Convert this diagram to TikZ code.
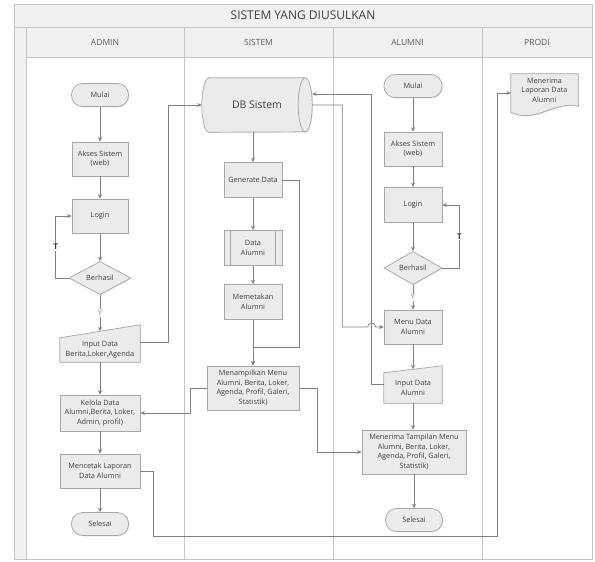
\documentclass[tikz,border=0pt]{standalone}
\usepackage{fontspec}
\setmainfont{Open Sans}
\usetikzlibrary{shapes.geometric,calc,shadows,arrows.meta}
\definecolor{boxfill}{HTML}{EBEBEB}
\definecolor{boxdraw}{HTML}{A6A6A6}
\definecolor{linec}{HTML}{808080}
\definecolor{txt}{HTML}{404040}
\definecolor{lanefill}{HTML}{F0F0F0}
\definecolor{lanedraw}{HTML}{C4C4C4}
\definecolor{ycol}{HTML}{6F8F8F}
\pgfdeclarelayer{lanes}
\pgfdeclarelayer{bgshapes}
\pgfsetlayers{lanes,bgshapes,main}
\begin{document}
\begin{tikzpicture}[x=1pt,y=-1pt,
 base/.style={font=\fontsize{7.3}{9.5}\selectfont, text=txt, align=center, inner sep=1pt},
 shad/.style={drop shadow={shadow xshift=0.8pt, shadow yshift=-0.8pt, opacity=0.22}},
 proc/.style={base, rectangle, draw=boxdraw, fill=boxfill, line width=0.7pt, shad},
 term/.style={proc, rounded corners=11pt, minimum width=57pt, minimum height=23pt},
 decis/.style={base, diamond, draw=boxdraw, fill=boxfill, line width=0.7pt, minimum width=62pt, minimum height=33pt, inner sep=0pt, shad},
 ghost/.style={base, rectangle, draw=none},
 shapefill/.style={draw=boxdraw, fill=boxfill, line width=0.7pt, shad},
 arr/.style={draw=linec, line width=0.8pt, -{Stealth[length=4.5pt,width=4pt]}},
 ylbl/.style={font=\fontsize{7.5}{8}\selectfont, text=ycol, inner sep=1pt, fill=white},
 tlbl/.style={font=\fontsize{8}{9}\selectfont\bfseries, text=black!80, inner sep=1pt, fill=white},
 lanehead/.style={font=\fontsize{8.5}{10}\selectfont, text=txt!85},
]
\useasboundingbox (0,0) rectangle (595,562);
\begin{pgfonlayer}{lanes}
\fill[white] (0,0) rectangle (595,562);
\draw[lanedraw, fill=lanefill] (14,4) rectangle (592,27);
\draw[lanedraw, fill=lanefill] (14,27) rectangle (26,559);
\draw[lanedraw, fill=lanefill] (26,27) rectangle (592,57);
\draw[lanedraw] (26,57) rectangle (592,559);
\foreach \x in {184,333,482} \draw[lanedraw] (\x,27) -- (\x,559);
\end{pgfonlayer}
\node[font=\fontsize{12}{14}\selectfont, text=txt] (title) at (303,15.5) {SISTEM YANG DIUSULKAN};
\node[lanehead] (hadmin) at (105,42) {ADMIN};
\node[lanehead] (hsistem) at (258.5,42) {SISTEM};
\node[lanehead] (halumni) at (407.5,42) {ALUMNI};
\node[lanehead] (hprodi) at (537,42) {PRODI};

% ADMIN
\node[term] (m1) at (100,95) {Mulai};
\node[proc, minimum width=56pt, minimum height=34pt] (a1) at (100,159) {Akses Sistem\\(web)};
\node[proc, minimum width=56pt, minimum height=34pt] (l1) at (100,216) {Login};
\node[decis] (b1) at (100,278) {Berhasil};
\node[ghost, minimum width=80pt, minimum height=24pt] (i1) at (100,350) {Input Data\\Berita,Loker,Agenda};
\node[proc, minimum width=80pt, minimum height=36pt] (k1) at (100,413) {Kelola Data\\Alumni,Berita, Loker,\\Admin, profil)};
\node[proc, minimum width=80pt, minimum height=34pt] (c1) at (100,471) {Mencetak Laporan\\Data Alumni};
\node[term] (s1) at (100,524) {Selesai};

% SISTEM
\node[ghost, minimum width=110pt, minimum height=54pt, font=\fontsize{10.5}{12}\selectfont] (db) at (257,105) {DB Sistem};
\node[proc, minimum width=58pt, minimum height=35pt] (g) at (253,180) {Generate Data};
\node[proc, minimum width=58pt, minimum height=35pt] (d) at (253,248) {Data\\Alumni};
\node[proc, minimum width=58pt, minimum height=35pt] (mp) at (253,302) {Memetakan\\Alumni};
\node[proc, minimum width=92pt, minimum height=44pt] (mn) at (253,388) {Menampilkan Menu\\Alumni, Berita, Loker,\\Agenda, Profil, Galeri,\\Statistik)};

% ALUMNI
\node[term, minimum width=58pt] (m2) at (413,86) {Mulai};
\node[proc, minimum width=58pt, minimum height=34pt] (a2) at (413,149) {Akses Sistem\\(web)};
\node[proc, minimum width=58pt, minimum height=35pt] (l2) at (413,205) {Login};
\node[decis, minimum width=58pt] (b2) at (413,268) {Berhasil};
\node[proc, minimum width=58pt, minimum height=34pt] (md) at (413,327) {Menu Data\\Alumni};
\node[ghost, minimum width=58pt, minimum height=30pt] (ia) at (413,388) {Input Data\\Alumni};
\node[proc, minimum width=104pt, minimum height=44pt] (mt) at (414,452) {Menerima Tampilan Menu\\Alumni, Berita, Loker,\\Agenda, Profil, Galeri,\\Statistik)};
\node[term] (s2) at (414,520) {Selesai};

% PRODI
\node[ghost, minimum width=67pt, minimum height=32pt] (doc) at (544.5,90) {Menerima\\Laporan Data\\Alumni};

% custom shapes
\begin{pgfonlayer}{bgshapes}
\path[shapefill] (i1.south west) -- (i1.north west) -- ([yshift=13pt]i1.north east) -- (i1.south east) -- cycle;
\path[shapefill] (ia.south west) -- (ia.north west) -- ([yshift=7pt]ia.north east) -- (ia.south east) -- cycle;
\path[shapefill] ([xshift=7pt]db.north west) -- ([xshift=-7pt]db.north east)
  arc[start angle=-90,end angle=90,x radius=7,y radius=27]
  -- ([xshift=7pt]db.south west)
  arc[start angle=90,end angle=270,x radius=7,y radius=27] -- cycle;
\draw[boxdraw, line width=0.7pt] ([xshift=-7pt]db.north east) arc[start angle=-90,end angle=-270,x radius=7,y radius=27];
\path[shapefill] ([yshift=-6pt]doc.south west) -- (doc.north west) -- (doc.north east) -- (doc.south east)
  .. controls ([xshift=-23pt,yshift=6pt]doc.south east) and ([xshift=24pt,yshift=-18pt]doc.south west) .. ([yshift=-6pt]doc.south west) -- cycle;
\end{pgfonlayer}
\draw[boxdraw, line width=0.7pt] ([xshift=7pt]d.north west) -- ([xshift=7pt]d.south west);
\draw[boxdraw, line width=0.7pt] ([xshift=-7pt]d.north east) -- ([xshift=-7pt]d.south east);

% connectors ADMIN
\draw[arr] (m1) -- (a1);
\draw[arr] (a1) -- (l1);
\draw[arr] (l1) -- (b1);
\draw[arr] (b1.south) -- node[ylbl]{Y} ([yshift=6.5pt]i1.north);
\draw[arr] (i1) -- (k1);
\draw[arr] (k1) -- (c1);
\draw[arr] (c1) -- (s1);
\draw[arr] (b1.west) -- ++(-13,0) |- node[tlbl, pos=0.25]{T} (l1.west);
\draw[arr] ([yshift=8pt]i1.east) -- ++(28,0) |- (db.west);

% connectors SISTEM
\draw[arr] (g.north |- db.south) -- (g.north);
\draw[arr] (g) -- (d);
\draw[arr] (d) -- (mp);
\draw[arr] (mp) -- (mn);
\draw[arr] (g.east) -- ++(17,0) |- ([yshift=18pt]mn.north) -- (mn.north);
\draw[arr] (mn.west) -- ++(-16,0) |- (k1.east);
\draw[arr] (mn.east) -- ++(18,0) |- (mt.west);
\draw[arr] (db.east) -- ++(30,0) |- ([xshift=-16pt]md.west) arc[start angle=180,end angle=360,radius=4] -- (md.west);
\draw[arr] ([yshift=4pt]ia.west) -- ++(-12,0) |- ([yshift=11pt]db.east);

% connectors ALUMNI
\draw[arr] (m2) -- (a2);
\draw[arr] (a2) -- (l2);
\draw[arr] (l2) -- (b2);
\draw[arr] (b2.east) -- ++(17,0) |- node[tlbl, pos=0.25]{T} (l2.east);
\draw[arr] (b2.south) -- node[ylbl]{Y} (md.north);
\draw[arr] (md.south) -- ([yshift=3.5pt]ia.north);
\draw[arr] (ia.south) -- (ia.south |- mt.north);
\draw[arr] (mt) -- (s2);

% to PRODI
\draw[arr] (c1.east) -- ++(13,0) -- ++(0,65) -| ([xshift=-13pt,yshift=-3pt]doc.west) -- ([yshift=-3pt]doc.west);
\end{tikzpicture}
\end{document}
